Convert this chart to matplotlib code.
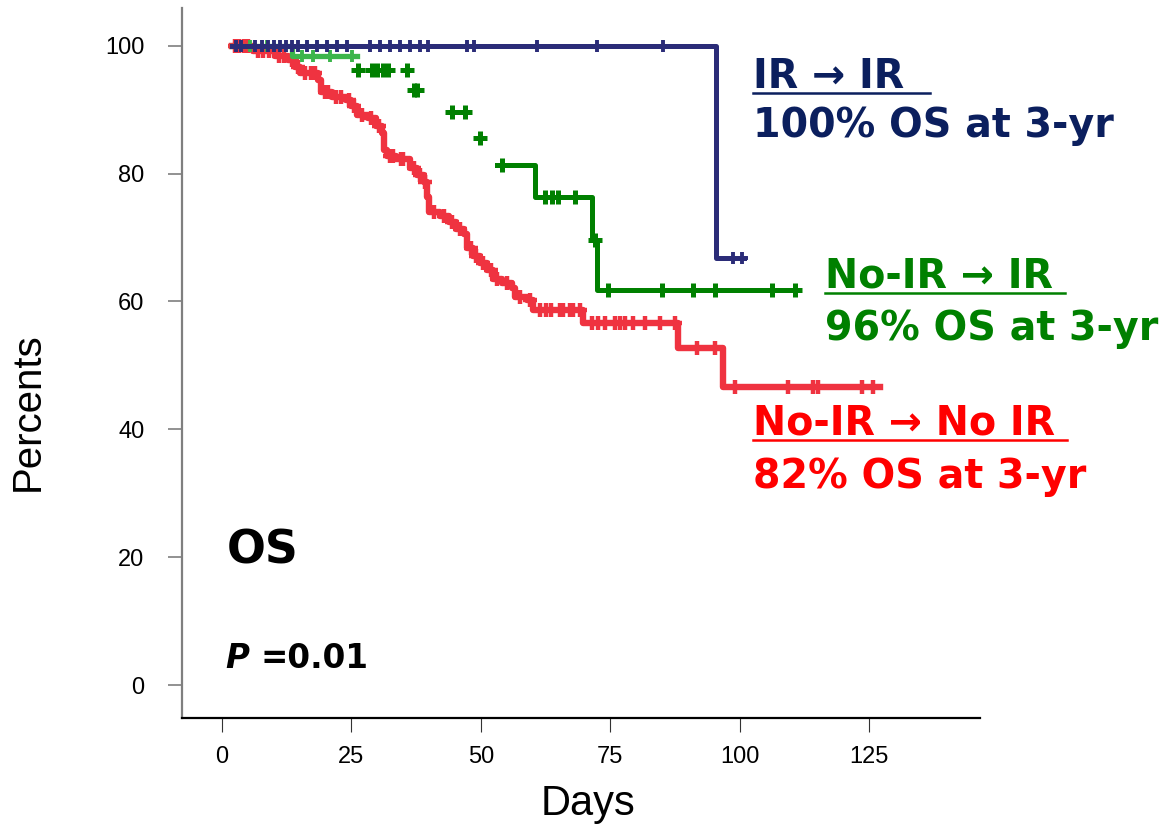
import numpy as np
import matplotlib.pyplot as plt
from matplotlib.lines import Line2D

# ---- Kaplan-Meier curves (days, percent) ----
# IR -> IR
blue_t = [2.0, 95.4, 100.9]
blue_s = [100.0, 66.8, 66.8]
blue_cens = [2.7, 3.7, 6.4, 7.7, 8.9, 10.0, 11.2, 12.4, 13.5, 14.7, 16.4, 18.4,
             20.3, 22.2, 24.1, 28.6, 30.5, 32.5, 34.4, 36.3, 38.3, 39.8, 47.3,
             48.7, 60.9, 72.4, 85.2, 98.7, 100.5]

# No-IR -> IR
green_t = [2.0, 13.5, 26.0, 36.6, 43.5, 49.0, 53.1, 60.5, 71.5, 72.4, 111.1]
green_s = [100.0, 98.4, 96.2, 93.1, 89.7, 85.6, 81.3, 76.4, 69.6, 61.8, 61.8]
green_cens = [5.4, 8.7, 15.5, 17.6, 20.9, 25.1, 26.3, 29.0, 30.0, 31.1, 32.1,
              35.7, 37.0, 37.6, 44.4, 47.0, 49.8, 54.1, 62.4, 63.8, 64.9, 68.2,
              72.1, 74.6, 85.0, 91.0, 95.2, 106.3, 110.7]

# No-IR -> No IR
red_t = [1.9, 6.0, 10.2, 12.8, 14.1, 15.1, 18.5, 19.1, 21.3, 24.0, 25.0, 26.1,
         28.2, 29.8, 30.9, 31.3, 31.9, 33.6, 36.3, 37.7, 39.0, 39.6, 40.0, 42.1,
         43.9, 45.2, 46.8, 47.3, 48.5, 49.8, 51.2, 52.4, 54.1, 56.0, 56.6, 58.9,
         60.1, 69.7, 88.1, 96.8, 127.1]
red_s = [100.0, 99.1, 98.4, 97.8, 96.6, 95.8, 94.7, 92.8, 92.0, 91.5, 90.5, 89.2,
         88.7, 87.5, 86.4, 83.7, 82.8, 82.3, 80.9, 79.8, 78.7, 76.4, 74.0, 73.4,
         72.5, 71.4, 70.6, 68.4, 67.1, 66.0, 64.9, 63.5, 62.9, 62.1, 60.7, 60.3,
         58.7, 56.7, 52.7, 46.6, 46.6]
red_cens = [2.6, 3.3, 4.2, 5.0, 7.0, 8.0, 9.0, 11.0, 12.0, 13.5, 14.6, 16.0, 17.2,
            18.0, 19.8, 20.5, 22.0, 23.0, 24.5, 25.5, 27.0, 28.8, 30.3, 32.5, 33.0,
            34.5, 35.0, 37.0, 38.2, 39.3, 41.0, 42.8, 44.5, 46.0, 48.0, 49.0, 50.5,
            52.0, 53.2, 55.0, 57.5, 59.5, 61.5, 62.5, 63.5, 65.3, 65.9, 67.2, 67.8,
            69.2, 71.5, 72.6, 74.0, 75.9, 76.9, 77.9, 79.4, 81.7, 84.6, 87.5, 91.8,
            95.2, 99.1, 109.4, 114.2, 115.1, 123.6, 125.8]

x_ticks = [0, 25, 50, 75, 100, 125]
y_ticks = [0, 20, 40, 60, 80, 100]

c_blue = '#2b2c78'
c_green = '#008000'
c_lgreen = '#3cb54b'
c_red = '#ef3340'


def level(t, s, c):
    # survival value of the step curve at censor times
    idx = np.searchsorted(np.array(t), np.array(c), side='right') - 1
    return np.array(s)[idx]


W, H = 1163, 826
fig = plt.figure(figsize=(W / 100, H / 100), dpi=100)
ax = fig.add_axes([182 / W, 1 - 718 / H, (980 - 182) / W, (718 - 8) / H])

mk = dict(marker='+', linestyle='none', markersize=9, mew=2.8)

# red curve
ax.plot(red_t, red_s, drawstyle='steps-post', color=c_red, lw=4.6, zorder=2)
ax.plot(red_cens, level(red_t, red_s, red_cens), color=c_red, zorder=2,
        marker='+', linestyle='none', markersize=10, mew=3.2)

# green curve: early part light, later part dark (as rendered in the original)
g_cens = np.array(green_cens)
ax.plot(green_t[:3], green_s[:2] + green_s[1:2], drawstyle='steps-post',
        color=c_lgreen, lw=3.8, zorder=3)
early = g_cens < green_t[2]
ax.plot(g_cens[early], level(green_t, green_s, g_cens[early]), color=c_lgreen,
        zorder=3, **mk)
ax.plot(green_t[6:], green_s[6:], drawstyle='steps-post', color=c_green, lw=3.6,
        zorder=3)
ax.plot(g_cens[~early], level(green_t, green_s, g_cens[~early]), color=c_green,
        zorder=3, marker='+', linestyle='none', markersize=10, mew=3.6)

# blue curve
ax.plot(blue_t, blue_s, drawstyle='steps-post', color=c_blue, lw=3.6, zorder=4)
ax.plot(blue_cens, level(blue_t, blue_s, blue_cens), color=c_blue, zorder=4, **mk)

ax.set_xlim(-7.73, 146.4)
ax.set_ylim(-5.16, 105.9)
ax.set_xticks(x_ticks)
ax.set_yticks(y_ticks)
for s in ['top', 'right']:
    ax.spines[s].set_visible(False)
ax.spines['left'].set_color('#7f7f7f')
ax.spines['left'].set_linewidth(1.6)
ax.spines['bottom'].set_color('black')
ax.spines['bottom'].set_linewidth(1.6)

sans = ['Liberation Sans', 'DejaVu Sans']
ax.tick_params(axis='y', direction='out', length=10, width=1.2, color='#7f7f7f',
               pad=17, labelsize=17)
ax.tick_params(axis='x', direction='out', length=10, width=0.8, color='#333333',
               pad=10, labelsize=17)
for lab in ax.get_yticklabels() + ax.get_xticklabels():
    lab.set_family(sans)

ax.set_xlabel('Days', fontsize=30, family=sans)
ax.set_ylabel('Percents', fontsize=29, family=sans)
ax.xaxis.set_label_coords((588 - 182) / 798, (718 - 784) / 710)
ax.yaxis.set_label_coords((47 - 182) / 798, (718 - 412) / 710)


def ftext(px, py, s, **kw):
    return fig.text(px / W, 1 - py / H, s, va='baseline', ha='left',
                    family='DejaVu Sans', weight='bold', **kw)


notes = [
    (753, 88, 'IR → IR ', '#0b1f5e', True),
    (753, 137, '100% OS at 3-yr', '#0b1f5e', False),
    (825, 288, 'No-IR → IR', c_green, True),
    (825, 340, '96% OS at 3-yr', c_green, False),
    (753, 435, 'No-IR → No IR', '#ff0000', True),
    (753, 488, '82% OS at 3-yr', '#ff0000', False),
]
heads = []
for px, py, s, col, ul in notes:
    t = ftext(px, py, s, color=col, fontsize=28.5)
    if ul:
        heads.append((t, py, col))

ftext(227, 563, 'OS', color='black', fontsize=33)
ftext(225, 668, 'P', color='black', fontsize=23.5, style='italic')
ftext(260, 668, '=0.01', color='black', fontsize=23.5)

# underline the group headings
fig.canvas.draw()
rend = fig.canvas.get_renderer()
for t, py, col in heads:
    bb = t.get_window_extent(rend)
    yy = 1 - (py + 5) / H
    fig.add_artist(Line2D([bb.x0 / W, bb.x1 / W + 12 / W], [yy, yy], color=col,
                          lw=1.8, transform=fig.transFigure))

fig.savefig('out.png', dpi=100)
